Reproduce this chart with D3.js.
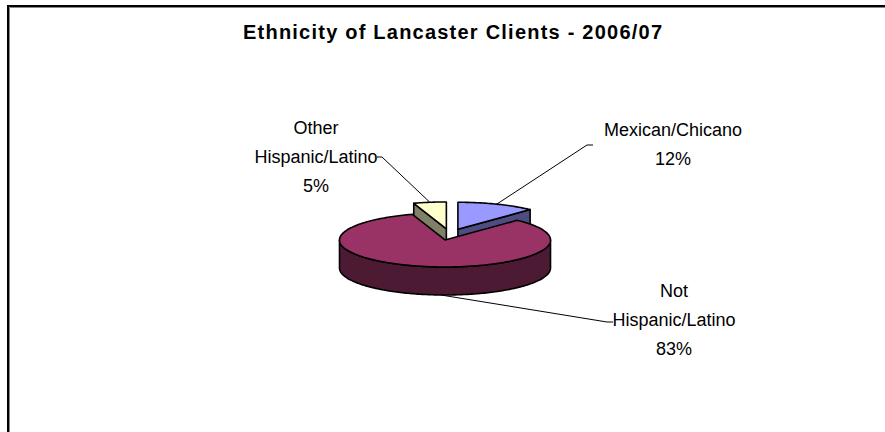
<!DOCTYPE html>
<html>
<head>
<meta charset="utf-8">
<script src="https://cdn.jsdelivr.net/npm/d3@7"></script>
<style>
  html, body { margin: 0; padding: 0; background: #fff; }
  svg { display: block; }
</style>
</head>
<body>
<svg id="chart" width="885" height="432"></svg>
<script>
// ---- data ----
const title = "Ethnicity of Lancaster Clients - 2006/07";
const categories = ["Mexican/Chicano", "Not Hispanic/Latino", "Other Hispanic/Latino"];
const values = [12, 83, 5];
const labelLines = [["Mexican/Chicano", "12%"], ["Not", "Hispanic/Latino", "83%"], ["Other", "Hispanic/Latino", "5%"]];
const topColors = ["#9999FF", "#993366", "#FFFFCC"];

// ---- layout ----
const W = 885, H = 432;
const cx = 449.8, cy = 234.5;      // pie centre (before explosion)
const rx = 105.5, ry = 27, depth = 28;
const explode = 22;                // explosion distance (in rx units)
const fontFamily = "'Liberation Sans', Arial, sans-serif";
// label placement: text centre x, first baseline, leader end points
const labelLayout = [
  { x: 673, y: 136, lead: [[587, 145], [593, 145]] },
  { x: 674, y: 297, lead: [[607, 322], [613, 322]] },
  { x: 316, y: 134, lead: [[382, 157], [377, 157]] }
];
const lineGap = 29;

const svg = d3.select("#chart");

// frame
svg.append("path").attr("d", `M9.5,${H + 5} V7.5 H${W + 5}`).attr("fill", "none").attr("stroke", "#888").attr("stroke-width", 1);
svg.append("path").attr("d", `M8,${H + 5} V6 H${W + 5}`).attr("fill", "none").attr("stroke", "#000").attr("stroke-width", 2);

svg.append("text").attr("x", 452.5).attr("y", 39).attr("text-anchor", "middle")
  .attr("font-family", fontFamily).attr("font-weight", "bold").attr("font-size", 20)
  .attr("textLength", 419).attr("lengthAdjust", "spacing")
  .text(title);

const pie = d3.pie().sort(null).value(d => d).startAngle(0).endAngle(2 * Math.PI);
const arcs = pie(values);

const darker = c => { const k = d3.rgb(c); return d3.rgb(k.r / 2, k.g / 2, k.b / 2).formatHex(); };

const slices = arcs.map((a, i) => {
  const mid = (a.startAngle + a.endAngle) / 2;
  const ox = cx + explode * Math.sin(mid);
  const oy = cy - explode * Math.cos(mid) * ry / rx;
  return { a, i, mid, ox, oy };
});

function pt(s, t, dy = 0) { return [s.ox + rx * Math.sin(t), s.oy - ry * Math.cos(t) + dy]; }
function arcPts(s, t0, t1, dy = 0) {
  const n = Math.max(2, Math.ceil(Math.abs(t1 - t0) / 0.02));
  return d3.range(n + 1).map(k => pt(s, t0 + (t1 - t0) * k / n, dy));
}
const line = d3.line();

// draw back slices first
const order = slices.slice().sort((p, q) => (-Math.cos(p.mid)) - (-Math.cos(q.mid)));

const g = svg.append("g");
const sw = 1.6;
order.forEach(s => {
  const { a, i } = s;
  const side = darker(topColors[i]);
  const c0 = [s.ox, s.oy];
  // radial faces
  if (Math.sin(a.startAngle) < -1e-6) {
    const p = pt(s, a.startAngle);
    g.append("path").attr("d", line([c0, p, [p[0], p[1] + depth], [c0[0], c0[1] + depth]]) + "Z")
      .attr("fill", side).attr("stroke", "#000").attr("stroke-width", sw).attr("stroke-linejoin", "round");
  }
  if (Math.sin(a.endAngle) > 1e-6) {
    const p = pt(s, a.endAngle);
    g.append("path").attr("d", line([c0, p, [p[0], p[1] + depth], [c0[0], c0[1] + depth]]) + "Z")
      .attr("fill", side).attr("stroke", "#000").attr("stroke-width", sw).attr("stroke-linejoin", "round");
  }
  // outer wall (front half: PI/2 .. 3PI/2)
  const w0 = Math.max(a.startAngle, Math.PI / 2), w1 = Math.min(a.endAngle, 3 * Math.PI / 2);
  if (w1 > w0) {
    const top = arcPts(s, w0, w1);
    const bot = arcPts(s, w1, w0, depth);
    g.append("path").attr("d", line(top.concat(bot)) + "Z")
      .attr("fill", side).attr("stroke", "#000").attr("stroke-width", sw).attr("stroke-linejoin", "round");
  }
  // top face
  const tp = [c0].concat(arcPts(s, a.startAngle, a.endAngle));
  g.append("path").attr("d", line(tp) + "Z")
    .attr("fill", topColors[i]).attr("stroke", "#000").attr("stroke-width", sw).attr("stroke-linejoin", "round");
});

// leader lines and labels
slices.forEach(s => {
  const L = labelLayout[s.i];
  const t = s.mid;
  const front = Math.cos(t) < 0;
  const start = pt(s, front ? t - 0.18 : t, front ? depth : 0);
  svg.append("path").attr("d", line([start].concat(L.lead)))
    .attr("fill", "none").attr("stroke", "#000").attr("stroke-width", 1);
  const tx = svg.append("text").attr("text-anchor", "middle")
    .attr("font-family", fontFamily).attr("font-size", 18).attr("fill", "#000");
  labelLines[s.i].forEach((ln, k) => {
    tx.append("tspan").attr("x", L.x).attr("y", L.y + k * lineGap).text(ln);
  });
});
</script>
</body>
</html>
